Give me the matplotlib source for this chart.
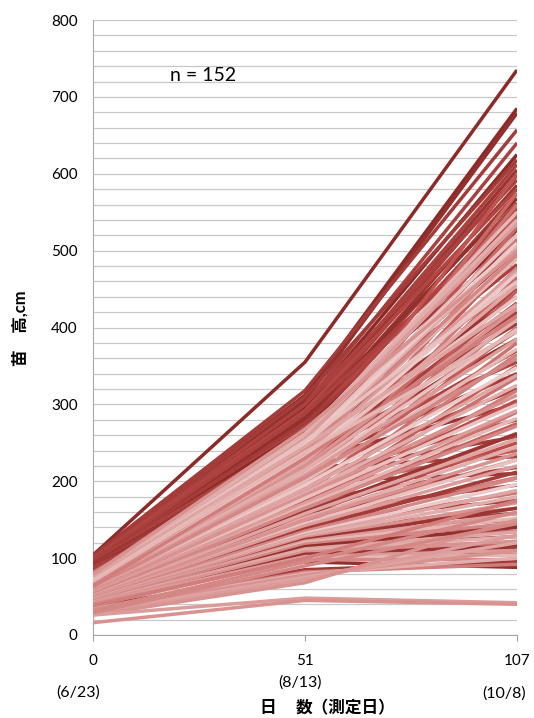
import matplotlib
matplotlib.use("Agg")
import matplotlib.pyplot as plt
from matplotlib.colors import LinearSegmentedColormap

# --- data: seedling height (cm) at day 0, 51, 107 for each of the 152 trees ---
days = ["0", "51", "107"]
dates = ["(6/23)", "(8/13)", "(10/8)"]

h_day0 = [
    104, 101, 99, 103, 100, 97, 102, 96, 98, 95,
    100, 94, 99, 92, 97, 93, 95, 90, 98, 91,
    94, 89, 96, 88, 92, 87, 95, 86, 90, 85,
    93, 84, 88, 91, 83, 87, 82, 89, 86, 84,
    90, 81, 85, 88, 83,
    80, 78, 82, 76, 79, 74, 77, 72, 75, 70,
    73, 68, 71, 66, 69, 65, 67, 63, 70, 62,
    66, 60, 64, 78, 61, 75, 59, 72, 58, 68,
    57, 65, 62, 60, 58, 56, 55, 54, 52, 60,
    70, 68, 72, 65, 66, 62, 69, 60, 64, 58,
    63, 57, 61, 56, 59, 54, 58, 52, 55, 50,
    53, 48, 51, 47, 50, 46, 49, 45, 48, 44,
    47, 43, 46, 42, 45, 41, 44, 40, 43, 39,
    42, 38, 41, 37, 40, 75, 73, 71, 67, 77,
    74, 76, 63, 79, 70,
    36, 35, 34, 33, 30, 32, 28, 26, 26, 16,
    38, 29,
]
h_day51 = [
    355, 312, 305, 318, 300, 295, 310, 290, 285, 280,
    300, 275, 292, 270, 282, 265, 272, 260, 288, 255,
    268, 250, 276, 245, 258, 240, 262, 235, 248, 230,
    252, 225, 238, 244, 220, 232, 215, 236, 222, 212,
    228, 205, 210, 218, 200,
    225, 218, 230, 210, 215, 200, 205, 195, 198, 188,
    192, 180, 185, 175, 178, 170, 172, 165, 175, 160,
    165, 155, 158, 190, 150, 175, 145, 160, 140, 150,
    135, 140, 130, 125, 120, 115, 112, 108, 102, 95,
    250, 245, 240, 235, 230, 225, 232, 220, 215, 210,
    208, 200, 205, 195, 190, 185, 182, 178, 172, 168,
    165, 160, 158, 152, 150, 145, 142, 138, 135, 132,
    130, 128, 126, 124, 122, 120, 118, 115, 112, 110,
    108, 105, 102, 100, 98, 260, 255, 248, 240, 262,
    252, 245, 230, 268, 238,
    85, 82, 80, 78, 75, 95, 72, 68, 48, 45,
    100, 90,
]
h_day107 = [
    735, 685, 679, 657, 640, 625, 618, 612, 605, 598,
    592, 585, 580, 574, 568, 562, 555, 548, 540, 535,
    527, 520, 512, 505, 500, 490, 482, 470, 460, 450,
    440, 432, 420, 405, 395, 385, 370, 355, 340, 320,
    300, 280, 258, 232, 210,
    600, 575, 560, 545, 530, 515, 495, 478, 465, 448,
    430, 415, 400, 380, 365, 350, 335, 318, 305, 290,
    275, 262, 250, 240, 228, 218, 205, 195, 185, 175,
    165, 158, 150, 142, 135, 128, 120, 112, 105, 88,
    520, 505, 490, 475, 470, 455, 440, 425, 410, 398,
    385, 372, 360, 348, 338, 325, 312, 300, 292, 282,
    272, 262, 255, 245, 236, 228, 220, 212, 204, 196,
    188, 180, 172, 165, 158, 152, 146, 140, 134, 128,
    122, 116, 110, 104, 98, 550, 535, 510, 495, 540,
    460, 430, 415, 500, 395,
    95, 92, 100, 110, 120, 160, 130, 150, 42, 40,
    175, 145,
]
# colour shade of each line (0 = light pink, 1 = dark red)
shade = [
    1.0, 1.0, 0.95, 0.85, 0.8, 1.0, 0.85, 0.8, 0.9, 0.85,
    0.8, 0.9, 0.75, 0.85, 0.95, 0.8, 0.75, 0.85, 0.8, 0.9,
    1.0, 0.75, 0.85, 0.8, 0.9, 0.75, 0.8, 0.85, 0.75, 0.8,
    0.9, 0.75, 0.8, 0.85, 0.75, 0.9, 0.8, 0.75, 0.85, 0.8,
    0.9, 0.75, 0.85, 0.8, 0.9,
    0.65, 0.55, 0.5, 0.65, 0.55, 0.5, 0.6, 0.45, 0.55, 0.6,
    0.5, 0.45, 0.6, 0.5, 0.45, 0.6, 0.5, 0.45, 0.7, 0.5,
    0.6, 0.45, 0.7, 0.6, 0.5, 0.8, 0.45, 0.85, 0.5, 0.8,
    0.45, 0.85, 0.6, 0.8, 0.5, 0.85, 0.6, 0.9, 0.65, 0.95,
    0.1, 0.2, 0.15, 0.3, 0.05, 0.25, 0.1, 0.35, 0.2, 0.1,
    0.3, 0.15, 0.4, 0.05, 0.25, 0.2, 0.35, 0.1, 0.3, 0.15,
    0.4, 0.9, 0.25, 0.2, 0.35, 0.1, 0.3, 0.85, 0.4, 0.05,
    0.25, 0.2, 0.35, 0.9, 0.3, 0.15, 0.4, 0.95, 0.25, 0.2,
    0.35, 0.9, 0.3, 0.15, 0.4, 0.15, 0.3, 0.05, 0.4, 0.2,
    0.1, 0.25, 0.45, 0.35, 0.15,
    0.85, 0.45, 0.2, 0.35, 0.25, 0.4, 0.3, 0.35, 0.3, 0.35,
    0.45, 0.4,
]

cmap = LinearSegmentedColormap.from_list(
    "reds", ["#EFD3D2", "#D99694", "#C0504D", "#8C2A28"])

plt.rcParams['font.family'] = ['Lato', 'Noto Sans CJK JP', 'DejaVu Sans']

fig = plt.figure(figsize=(5.34, 7.18), dpi=100)
ax = fig.add_axes([0.1742, 0.1156, 0.7940, 0.8565])

x = [0, 1, 2]
for a, b, c, s in zip(h_day0, h_day51, h_day107, shade):
    ax.plot(x, [a, b, c], color=cmap(s), lw=2.5, solid_capstyle='butt', zorder=3)

ax.set_xlim(0, 2)
ax.set_ylim(0, 800)
ax.set_yticks(range(0, 801, 100))
ax.set_yticks(range(0, 801, 20), minor=True)
ax.grid(True, which='both', axis='y', color='#C8C8C8', lw=0.9, zorder=0)
ax.tick_params(axis='y', which='both', length=0, pad=11, labelsize=11)

ax.set_xticks(x)
ax.set_xticklabels(days)
ax.tick_params(axis='x', length=4, color='#A0A0A0', pad=10, labelsize=11)

for side in ['top', 'right']:
    ax.spines[side].set_visible(False)
for side in ['left', 'bottom']:
    ax.spines[side].set_color('#A6A6A6')

# measurement dates under the day labels
date_xy = [(78, 693), (300, 683), (504, 694)]
for (px, py), d in zip(date_xy, dates):
    fig.text(px / 534, 1 - py / 718, d, ha='center', va='center', fontsize=11.5)

# x axis title, drawn in two parts to keep the wide gap after the first glyph
fig.text(268 / 534, 1 - 708 / 718, "日", ha='center', va='center',
         fontsize=12, fontweight='bold')
fig.text(296 / 534, 1 - 708 / 718, "数（測定日）", ha='left', va='center',
         fontsize=12, fontweight='bold')
fig.text(20 / 534, 1 - 328 / 718, "苗\u3000高,cm", ha='center', va='center',
         rotation=90, fontsize=12, fontweight='bold')

ax.text(0.52, 728, "n = 152", ha='center', va='center', fontsize=14)

fig.savefig("out.png", dpi=100)
